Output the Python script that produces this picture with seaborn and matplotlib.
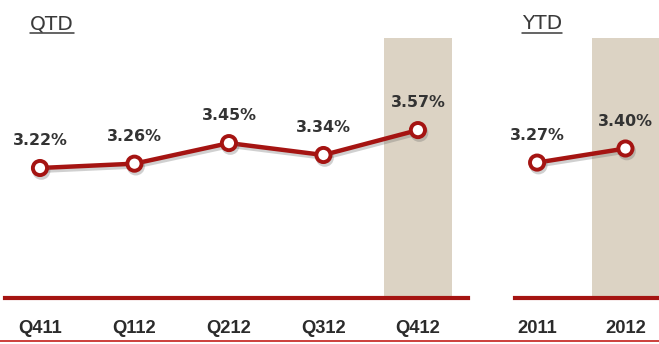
import matplotlib
matplotlib.use("Agg")
import matplotlib.pyplot as plt
import matplotlib.patheffects as pe
from matplotlib.lines import Line2D
import seaborn as sns
import pandas as pd

# Net interest margin, quarter-to-date and year-to-date
qtd_periods = ["Q411", "Q112", "Q212", "Q312", "Q412"]
qtd_values = [3.22, 3.26, 3.45, 3.34, 3.57]
ytd_periods = ["2011", "2012"]
ytd_values = [3.27, 3.40]
qtd_highlight = "Q412"
ytd_highlight = "2012"

RED = "#a51412"
BEIGE = "#dcd3c4"
TEXT = "#2b2b2b"

sns.set_theme(style="white")
plt.rcParams["font.family"] = ["DejaVu Sans"]

W, H = 659, 344
fig = plt.figure(figsize=(W / 100, H / 100), dpi=100)
fig.patch.set_facecolor("white")


def px_box(x0, x1, y_top, y_bot):
    return [x0 / W, 1 - y_bot / H, (x1 - x0) / W, (y_bot - y_top) / H]


ax_q = fig.add_axes(px_box(5, 468, 38, 298))
ax_y = fig.add_axes(px_box(515, 659, 38, 298))

shadow = [pe.SimpleLineShadow(offset=(1.0, -2.0), shadow_color="#666666", alpha=0.3),
          pe.Normal()]


def panel(ax, periods, values, highlight, xlim, band):
    df = pd.DataFrame({"period": periods, "margin": values})
    idx = periods.index(highlight)
    ax.axvspan(idx - band / 2, idx + band / 2, color=BEIGE, lw=0, zorder=0)
    sns.pointplot(data=df, x="period", y="margin", ax=ax, color=RED,
                  errorbar=None, markers="o", linewidth=3.2)
    for line in ax.lines:
        line.set_markersize(10.2)
        line.set_markerfacecolor("white")
        line.set_markeredgecolor(RED)
        line.set_markeredgewidth(2.8)
        line.set_path_effects(shadow)
        line.set_zorder(3)
    for i, v in enumerate(values):
        ax.annotate(f"{v:.2f}%", (i, v), xytext=(0, 16.5), textcoords="offset points",
                    ha="center", va="baseline", fontsize=11.4, fontweight="bold",
                    color="#333333", zorder=4)
    ax.set_xlim(*xlim)
    ax.set_ylim(2.02, 4.42)
    ax.set_facecolor("none")
    ax.set_xlabel("")
    ax.set_ylabel("")
    ax.set_yticks([])
    for side in ("top", "left", "right"):
        ax.spines[side].set_visible(False)
    ax.spines["bottom"].set_color(RED)
    ax.spines["bottom"].set_linewidth(3.0)
    ax.spines["bottom"].set_zorder(5)
    ax.tick_params(axis="x", length=0, pad=16)
    for lab in ax.get_xticklabels():
        lab.set_fontfamily("Liberation Sans")
        lab.set_fontweight("bold")
        lab.set_fontsize(13.2)
        lab.set_color(TEXT)


panel(ax_q, qtd_periods, qtd_values, qtd_highlight, (-0.37, 4.53), 0.72)
panel(ax_y, ytd_periods, ytd_values, ytd_highlight, (-0.25, 1.38), 0.76)

# Section headings with underline
fig.canvas.draw()
renderer = fig.canvas.get_renderer()
for label, x_px in (("QTD", 30), ("YTD", 522)):
    t = fig.text(x_px / W, 1 - 29 / H, label, ha="left", va="baseline",
                 fontsize=14.5, color="#3a3a3a")
    bb = t.get_window_extent(renderer)
    y_ul = 1 - 33 / H
    fig.add_artist(Line2D([bb.x0 / W, bb.x1 / W], [y_ul, y_ul],
                          transform=fig.transFigure, color="#3a3a3a", lw=1.1))

# Thin rule along the bottom edge
fig.add_artist(Line2D([0, 1], [3 / H, 3 / H], transform=fig.transFigure,
                      color="#c8302c", lw=1.3))

fig.savefig("out.png", dpi=100, facecolor="white")
